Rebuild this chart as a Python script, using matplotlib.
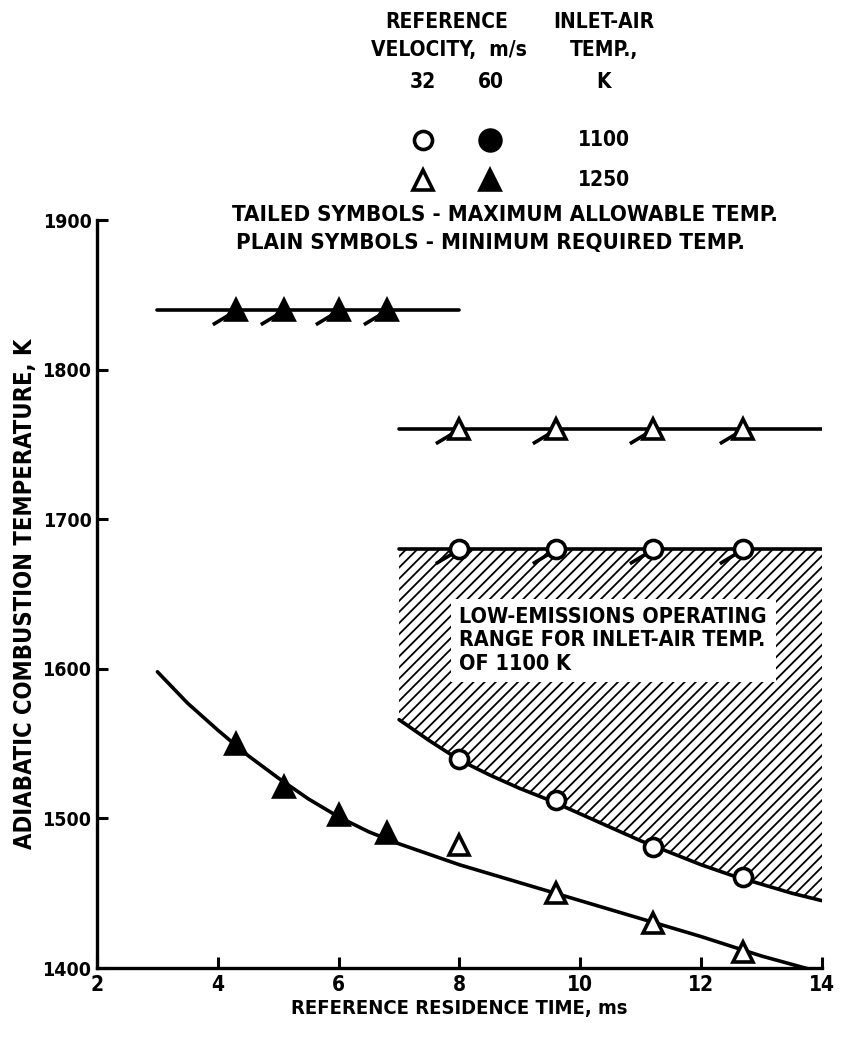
import matplotlib
matplotlib.use("Agg")
import matplotlib.pyplot as plt
from matplotlib.path import Path
import numpy as np

plt.rcParams['font.family'] = ['DejaVu Sans']
plt.rcParams['font.stretch'] = 'condensed'
plt.rcParams['font.weight'] = 'bold'
plt.rcParams['hatch.linewidth'] = 1.3

# ---- data ----
# lower (minimum required) curve
curve_x = [3.0, 3.5, 4.0, 4.5, 5.0, 5.5, 6.0, 6.5, 7.0, 7.5, 8.0, 9.0, 10.0, 11.0, 12.0, 13.0, 13.9]
curve_y = [1598, 1577, 1559, 1542, 1527, 1513, 1501, 1491, 1483, 1476, 1469, 1457, 1445, 1433, 1421, 1408, 1398]

# lower boundary of the low-emissions operating range (1100 K)
band_x = [7.0, 7.5, 8.0, 8.5, 9.0, 9.5, 10.0, 10.5, 11.0, 11.5, 12.0, 12.5, 13.0, 13.5, 14.0]
band_y = [1566, 1552, 1539, 1529, 1520, 1512, 1503, 1494, 1485, 1477, 1469, 1462, 1456, 1450, 1445]
band_top = 1680

# plain symbols (minimum required temperature)
fill_tri_x = [4.3, 5.1, 6.0, 6.8]
fill_tri_y = [1550, 1521, 1502, 1490]
open_tri_x = [8.0, 9.6, 11.2, 12.7]
open_tri_y = [1482, 1450, 1430, 1411]
open_circ_x = [8.0, 9.6, 11.2, 12.7]
open_circ_y = [1540, 1512, 1481, 1461]

# tailed symbols (maximum allowable temperature)
tail_fill_tri_x = [4.3, 5.1, 6.0, 6.8]
tail_fill_tri_y = [1840, 1840, 1840, 1840]
tail_open_tri_x = [8.0, 9.6, 11.2, 12.7]
tail_open_tri_y = [1760, 1760, 1760, 1760]
tail_open_circ_x = [8.0, 9.6, 11.2, 12.7]
tail_open_circ_y = [1680, 1680, 1680, 1680]

# horizontal maximum-allowable lines
max_line_1_x = [3.0, 8.0]
max_line_1_y = [1840, 1840]
max_line_2_x = [7.0, 14.0]
max_line_2_y = [1760, 1760]
max_line_3_x = [7.0, 14.0]
max_line_3_y = [1680, 1680]

x_ticks = [2, 4, 6, 8, 10, 12, 14]
y_ticks = [1400, 1500, 1600, 1700, 1800, 1900]

# ---- figure ----
W, H = 841, 1039
fig = plt.figure(figsize=(W / 100, H / 100), dpi=100)
ax = fig.add_axes([97 / W, 1 - 968 / H, 725 / W, 748 / H])
ax.set_xlim(2, 14)
ax.set_ylim(1400, 1900)

for s in ['top', 'right']:
    ax.spines[s].set_visible(False)
for s in ['left', 'bottom']:
    ax.spines[s].set_linewidth(2.4)

ax.set_xticks(x_ticks)
ax.set_yticks(y_ticks)
ax.tick_params(direction='in', length=8, width=2.2)
ax.tick_params(axis='y', pad=4, labelsize=14)
ax.tick_params(axis='x', pad=5, labelsize=15)
for lab in ax.get_xticklabels() + ax.get_yticklabels():
    lab.set_fontweight('bold')

ax.set_xlabel('REFERENCE RESIDENCE TIME, ms', fontsize=14.5, fontweight='bold', labelpad=3)
ax.set_ylabel('ADIABATIC COMBUSTION TEMPERATURE, K', fontsize=17, fontweight='bold', labelpad=4)

lw = 2.6
# hatched operating range
ax.fill_between(band_x, band_y, [band_top] * len(band_x), facecolor='white',
                edgecolor='black', hatch='///', linewidth=0, zorder=1)
ax.plot(band_x, band_y, color='black', lw=lw, zorder=3, solid_capstyle='round')

# lower curve
ax.plot(curve_x, curve_y, color='black', lw=lw, zorder=3, solid_capstyle='round')

# horizontal lines
for lx, ly in [(max_line_1_x, max_line_1_y), (max_line_2_x, max_line_2_y), (max_line_3_x, max_line_3_y)]:
    ax.plot(lx, ly, color='black', lw=lw, zorder=3, solid_capstyle='round')

# tails for the "tailed" symbols
tail = Path([(0, 0), (-1.0, -0.6)], [Path.MOVETO, Path.LINETO])
for tx, ty in [(tail_fill_tri_x, tail_fill_tri_y), (tail_open_tri_x, tail_open_tri_y),
               (tail_open_circ_x, tail_open_circ_y)]:
    ax.plot(tx, ty, ls='none', marker=tail, markersize=34, markeredgewidth=2.6,
            markeredgecolor='black', zorder=4)

ms_tri = 14
ms_circ = 13
mew = 2.6
ax.plot(fill_tri_x, fill_tri_y, ls='none', marker='^', ms=ms_tri, mfc='black', mec='black', mew=mew, zorder=5)
ax.plot(tail_fill_tri_x, tail_fill_tri_y, ls='none', marker='^', ms=ms_tri, mfc='black', mec='black', mew=mew, zorder=5)
ax.plot(open_tri_x, open_tri_y, ls='none', marker='^', ms=ms_tri, mfc='white', mec='black', mew=mew, zorder=5)
ax.plot(tail_open_tri_x, tail_open_tri_y, ls='none', marker='^', ms=ms_tri, mfc='white', mec='black', mew=mew, zorder=5)
ax.plot(open_circ_x, open_circ_y, ls='none', marker='o', ms=ms_circ, mfc='white', mec='black', mew=mew, zorder=5)
ax.plot(tail_open_circ_x, tail_open_circ_y, ls='none', marker='o', ms=ms_circ, mfc='white', mec='black', mew=mew, zorder=5)

# annotation inside the hatched region
ax.text(8.0, 1619, 'LOW-EMISSIONS OPERATING\nRANGE FOR INLET-AIR TEMP.\nOF 1100 K',
        ha='left', va='center', fontsize=15.5, fontweight='bold', linespacing=1.2, zorder=6,
        bbox=dict(facecolor='white', edgecolor='none', pad=6))

# ---- key at the top ----
def ft(x, y, s, **kw):
    fig.text(x / W, 1 - y / H, s, ha=kw.pop('ha', 'center'), va='center',
             fontsize=kw.pop('fontsize', 15), fontweight='bold', **kw)

ft(447, 22, 'REFERENCE')
ft(449, 50, 'VELOCITY,  m/s')
ft(604, 22, 'INLET-AIR')
ft(604, 50, 'TEMP.,')
ft(423, 82, '32')
ft(491, 82, '60')
ft(604, 82, 'K')
ft(604, 140, '1100')
ft(604, 180, '1250')
ft(232, 215, 'TAILED SYMBOLS - MAXIMUM ALLOWABLE TEMP.', ha='left', fontsize=16)
ft(236, 243, 'PLAIN SYMBOLS - MINIMUM REQUIRED TEMP.', ha='left', fontsize=16)

key_ax = fig.add_axes([0, 0, 1, 1], facecolor='none')
key_ax.set_xlim(0, W)
key_ax.set_ylim(H, 0)
key_ax.axis('off')
key_ax.plot([423], [140], ls='none', marker='o', ms=ms_circ, mfc='white', mec='black', mew=mew)
key_ax.plot([490], [140], ls='none', marker='o', ms=ms_circ + 2, mfc='black', mec='black', mew=mew)
key_ax.plot([423], [180], ls='none', marker='^', ms=ms_tri, mfc='white', mec='black', mew=mew)
key_ax.plot([490], [180], ls='none', marker='^', ms=ms_tri, mfc='black', mec='black', mew=mew)

fig.savefig('out.png', dpi=100)
